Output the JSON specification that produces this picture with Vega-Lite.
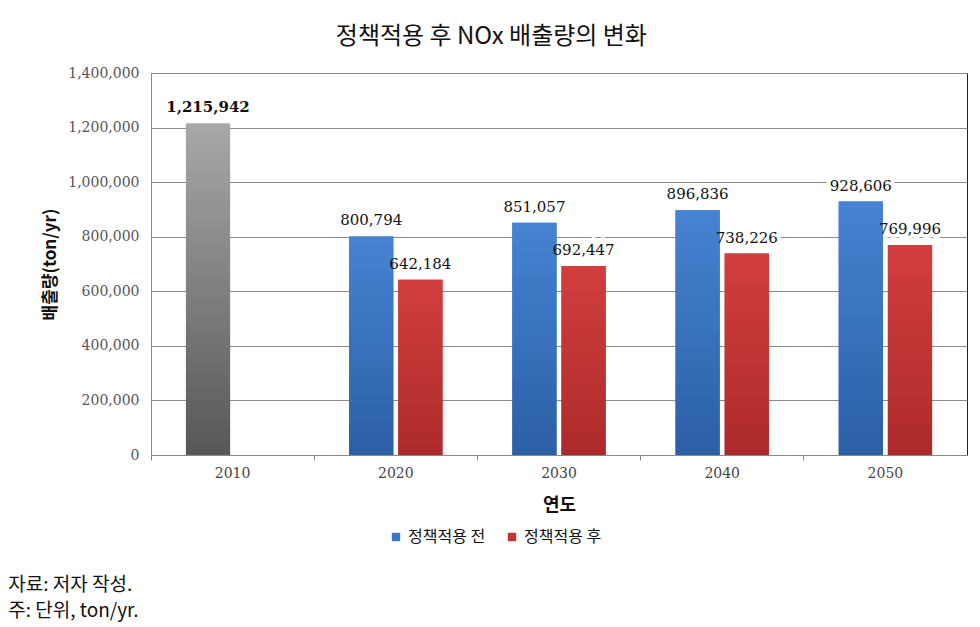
{
  "$schema": "https://vega.github.io/schema/vega-lite/v6.json",
  "background": "white",
  "padding": {"left": 8, "right": 12, "top": 24, "bottom": 8},
  "title": {
    "text": ["자료: 저자 작성.", "주: 단위, ton/yr."],
    "orient": "bottom",
    "anchor": "start",
    "font": "Noto Sans CJK KR",
    "fontSize": 19,
    "fontWeight": "normal",
    "color": "#111",
    "lineHeight": 26,
    "offset": 31,
    "dx": -33
  },
  "config": {
    "font": "Noto Sans CJK KR",
    "view": {"stroke": "#222", "strokeWidth": 1},
    "legend": {
      "orient": "none",
      "direction": "horizontal",
      "symbolType": "square",
      "symbolSize": 70,
      "labelFont": "Noto Sans CJK KR",
      "labelFontSize": 16,
      "labelColor": "#111",
      "columnPadding": 18,
      "title": null
    }
  },
  "vconcat": [
    {
      "width": 816,
      "height": 382,
      "title": {
        "text": "정책적용 후 NOx 배출량의 변화",
        "font": "Noto Sans CJK KR",
        "fontSize": 24,
        "fontWeight": "normal",
        "color": "#111",
        "anchor": "middle",
        "frame": "bounds",
        "offset": 17,
        "dx": -13
      },
      "data": {
        "values": [
          {"year": "2010", "series": "정책적용 전", "value": 1215942, "kind": "base"},
          {"year": "2020", "series": "정책적용 전", "value": 800794, "kind": "before"},
          {"year": "2020", "series": "정책적용 후", "value": 642184, "kind": "after"},
          {"year": "2030", "series": "정책적용 전", "value": 851057, "kind": "before"},
          {"year": "2030", "series": "정책적용 후", "value": 692447, "kind": "after"},
          {"year": "2040", "series": "정책적용 전", "value": 896836, "kind": "before"},
          {"year": "2040", "series": "정책적용 후", "value": 738226, "kind": "after"},
          {"year": "2050", "series": "정책적용 전", "value": 928606, "kind": "before"},
          {"year": "2050", "series": "정책적용 후", "value": 769996, "kind": "after"}
        ]
      },
      "encoding": {
        "x": {
          "field": "year",
          "type": "nominal",
          "sort": ["2010", "2020", "2030", "2040", "2050"],
          "scale": {"paddingInner": 0, "paddingOuter": 0},
          "axis": {
            "title": "연도",
            "labelAngle": 0,
            "labelFont": "DejaVu Serif",
            "labelFontSize": 14,
            "labelColor": "#444",
            "labelPadding": 6,
            "bandPosition": 0,
            "ticks": true,
            "tickSize": 5,
            "tickColor": "#888",
            "domainColor": "#888",
            "grid": false,
            "titleFont": "Noto Sans CJK KR",
            "titleFontSize": 18,
            "titleFontWeight": "bold",
            "titleColor": "#111",
            "titlePadding": 16
          }
        },
        "xOffset": {
          "field": "series",
          "type": "nominal",
          "scale": {"domain": ["정책적용 전", "정책적용 후"], "paddingInner": 0.1, "paddingOuter": 0.71}
        },
        "y": {
          "field": "value",
          "type": "quantitative",
          "scale": {"domain": [0, 1400000], "nice": false},
          "axis": {
            "title": "배출량(ton/yr)",
            "values": [0, 200000, 400000, 600000, 800000, 1000000, 1200000, 1400000],
            "format": ",d",
            "labelFont": "DejaVu Serif",
            "labelFontSize": 14,
            "labelColor": "#555",
            "labelPadding": 12,
            "ticks": false,
            "grid": true,
            "gridColor": "#8a8a8a",
            "domainColor": "#888",
            "titleFont": "Noto Sans CJK KR",
            "titleFontSize": 17,
            "titleFontWeight": "bold",
            "titleColor": "#111",
            "titlePadding": 8
          }
        }
      },
      "layer": [
        {
          "transform": [{"filter": "datum.kind != 'base'"}],
          "mark": {"type": "text", "font": "DejaVu Serif", "fontSize": 15, "baseline": "alphabetic", "dy": -11, "stroke": "white", "strokeWidth": 8, "fill": "white"},
          "encoding": {"text": {"field": "value", "type": "quantitative", "format": ",d"}}
        },
        {
          "transform": [{"filter": "datum.kind == 'base'"}],
          "mark": {"type": "text", "font": "DejaVu Serif", "fontSize": 15, "fontWeight": "bold", "baseline": "alphabetic", "dy": -11, "stroke": "white", "strokeWidth": 8, "fill": "white"},
          "encoding": {"text": {"field": "value", "type": "quantitative", "format": ",d"}}
        },
        {
          "transform": [{"filter": "datum.kind != 'base'"}],
          "mark": {"type": "bar"},
          "encoding": {
            "color": {
              "field": "series",
              "type": "nominal",
              "scale": {"domain": ["정책적용 전", "정책적용 후"], "range": ["#3a75c4", "#c43434"]},
              "legend": {"title": null, "orient": "none", "legendX": 237, "legendY": 456, "direction": "horizontal"}
            }
          }
        },
        {
          "transform": [{"filter": "datum.kind == 'before'"}],
          "mark": {
            "type": "bar",
            "color": {"gradient": "linear", "x1": 0, "y1": 0, "x2": 0, "y2": 1,
              "stops": [{"offset": 0, "color": "#4683d2"}, {"offset": 1, "color": "#2b5fa6"}]}
          }
        },
        {
          "transform": [{"filter": "datum.kind == 'after'"}],
          "mark": {
            "type": "bar",
            "color": {"gradient": "linear", "x1": 0, "y1": 0, "x2": 0, "y2": 1,
              "stops": [{"offset": 0, "color": "#d23e3e"}, {"offset": 1, "color": "#ad2a2a"}]}
          }
        },
        {
          "transform": [{"filter": "datum.kind == 'base'"}],
          "mark": {
            "type": "bar",
            "color": {"gradient": "linear", "x1": 0, "y1": 0, "x2": 0, "y2": 1,
              "stops": [{"offset": 0, "color": "#a8a8a8"}, {"offset": 1, "color": "#575757"}]}
          }
        },
        {
          "transform": [{"filter": "datum.kind != 'base'"}],
          "mark": {"type": "text", "font": "DejaVu Serif", "fontSize": 15, "baseline": "alphabetic", "dy": -11, "color": "#111"},
          "encoding": {"text": {"field": "value", "type": "quantitative", "format": ",d"}}
        },
        {
          "transform": [{"filter": "datum.kind == 'base'"}],
          "mark": {"type": "text", "font": "DejaVu Serif", "fontSize": 15, "fontWeight": "bold", "baseline": "alphabetic", "dy": -11, "color": "#111"},
          "encoding": {"text": {"field": "value", "type": "quantitative", "format": ",d"}}
        }
      ]
    }
  ]
}
